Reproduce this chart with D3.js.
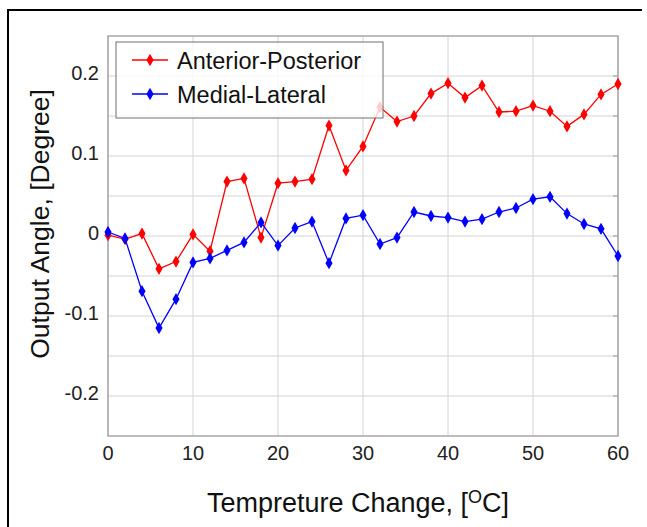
<!DOCTYPE html>
<html>
<head>
<meta charset="utf-8">
<script src="https://cdn.jsdelivr.net/npm/d3@7"></script>
<style>
    body { margin: 0; background: #fff; }
    text { font-family: "Liberation Sans", Arial, sans-serif; }
</style>
</head>
<body>
<div id="chart"></div>
<script>
// temperature steps (deg C)
const temps = [0, 2, 4, 6, 8, 10, 12, 14, 16, 18, 20, 22, 24, 26, 28, 30,
    32, 34, 36, 38, 40, 42, 44, 46, 48, 50, 52, 54, 56, 58, 60];

const anteriorPosterior = [0.001, -0.004, 0.003, -0.041, -0.032, 0.002, -0.019, 0.068, 0.072, -0.002,
    0.066, 0.068, 0.071, 0.138, 0.082, 0.112, 0.161, 0.143, 0.150, 0.178,
    0.191, 0.173, 0.188, 0.155, 0.156, 0.163, 0.156, 0.137, 0.152, 0.177, 0.190];

const medialLateral = [0.005, -0.003, -0.069, -0.115, -0.079, -0.033, -0.028, -0.018, -0.008, 0.017,
    -0.012, 0.010, 0.018, -0.034, 0.022, 0.026, -0.010, -0.002, 0.030, 0.025,
    0.023, 0.018, 0.021, 0.030, 0.035, 0.046, 0.049, 0.028, 0.015, 0.009, -0.025];

const xTicks = [0, 10, 20, 30, 40, 50, 60];
const yTicks = [-0.2, -0.1, 0, 0.1, 0.2];
const yTickLabels = ["-0.2", "-0.1", "0", "0.1", "0.2"];
const yGrid = [-0.2, -0.15, -0.1, -0.05, 0, 0.05, 0.1, 0.15, 0.2];

const series = [
    { name: "Anterior-Posterior", values: anteriorPosterior, color: "#ff0000" },
    { name: "Medial-Lateral", values: medialLateral, color: "#0000ff" }
];

let width = 647, height = 527;
let margin = { top: 36, right: 29, bottom: 91, left: 108 };

let svg = d3.select("#chart")
    .append("svg")
    .attr("width", width)
    .attr("height", height);

// outer frame (only left and top edges visible in the picture)
svg.append("path")
    .attr("d", "M8,527 L8,10 L642,10")
    .attr("fill", "none")
    .attr("stroke", "#000")
    .attr("stroke-width", 2);

let x = d3.scaleLinear()
    .domain([0, 60])
    .range([margin.left, width - margin.right]);

let y = d3.scaleLinear()
    .domain([-0.25, 0.25])
    .range([height - margin.bottom, margin.top]);

let g = svg.append("g");

// grid
g.selectAll(".vgrid")
    .data(xTicks)
    .enter()
    .append("line")
    .attr("class", "vgrid")
    .attr("x1", d => x(d)).attr("x2", d => x(d))
    .attr("y1", y(-0.25)).attr("y2", y(0.25))
    .attr("stroke", "#d4d4d4")
    .attr("stroke-width", 1);

g.selectAll(".hgrid")
    .data(yGrid)
    .enter()
    .append("line")
    .attr("class", "hgrid")
    .attr("x1", x(0)).attr("x2", x(60))
    .attr("y1", d => y(d)).attr("y2", d => y(d))
    .attr("stroke", "#d4d4d4")
    .attr("stroke-width", 1);

// small tick marks on the right side
g.selectAll(".rtick")
    .data(yGrid)
    .enter()
    .append("line")
    .attr("x1", x(60) - 5).attr("x2", x(60))
    .attr("y1", d => y(d)).attr("y2", d => y(d))
    .attr("stroke", "#999");

// plot border
g.append("rect")
    .attr("x", x(0))
    .attr("y", y(0.25))
    .attr("width", x(60) - x(0))
    .attr("height", y(-0.25) - y(0.25))
    .attr("fill", "none")
    .attr("stroke", "#a6a6a6")
    .attr("stroke-width", 1.5);

// tick labels
g.selectAll(".xlabel")
    .data(xTicks)
    .enter()
    .append("text")
    .attr("x", d => x(d))
    .attr("y", y(-0.25) + 24)
    .attr("text-anchor", "middle")
    .attr("font-size", 20)
    .attr("fill", "#222")
    .text(d => d);

g.selectAll(".ylabel")
    .data(yTicks)
    .enter()
    .append("text")
    .attr("x", x(0) - 9)
    .attr("y", d => y(d) + 4)
    .attr("text-anchor", "end")
    .attr("font-size", 20)
    .attr("fill", "#222")
    .text((d, i) => yTickLabels[i]);

// axis titles
let xt = svg.append("text")
    .attr("x", 358)
    .attr("y", 512)
    .attr("text-anchor", "middle")
    .attr("font-size", 27)
    .attr("fill", "#111");
xt.append("tspan").text("Tempreture Change, [");
xt.append("tspan").attr("font-size", 18).attr("dy", -9).text("O");
xt.append("tspan").attr("dy", 9).text("C]");

svg.append("text")
    .attr("transform", "translate(49," + 224 + ") rotate(-90)")
    .attr("text-anchor", "middle")
    .attr("font-size", 26.5)
    .attr("fill", "#111")
    .text("Output Angle, [Degree]");

// series
const diamond = d3.symbol().type(d3.symbolDiamond).size(44);

series.forEach(function (s) {
    let pts = temps.map((t, i) => [t, s.values[i]]);
    g.append("path")
        .datum(pts)
        .attr("fill", "none")
        .attr("stroke", s.color)
        .attr("stroke-width", 1.3)
        .attr("d", d3.line().x(d => x(d[0])).y(d => y(d[1])));
    g.selectAll(null)
        .data(pts)
        .enter()
        .append("path")
        .attr("transform", d => "translate(" + x(d[0]) + "," + y(d[1]) + ")")
        .attr("d", diamond)
        .attr("fill", s.color);
});

// legend (semi-transparent white box)
let legend = svg.append("g");
legend.append("rect")
    .attr("x", 116)
    .attr("y", 42)
    .attr("width", 267)
    .attr("height", 76)
    .attr("fill", "#fff")
    .attr("fill-opacity", 0.8)
    .attr("stroke", "#707070")
    .attr("stroke-width", 1);

series.forEach(function (s, i) {
    let ly = 60 + i * 34;
    legend.append("line")
        .attr("x1", 132).attr("x2", 168)
        .attr("y1", ly).attr("y2", ly)
        .attr("stroke", s.color)
        .attr("stroke-width", 1.3);
    legend.append("path")
        .attr("transform", "translate(150," + ly + ")")
        .attr("d", diamond)
        .attr("fill", s.color);
    legend.append("text")
        .attr("x", 177)
        .attr("y", ly + 8.5)
        .attr("font-size", 23.5)
        .attr("fill", "#111")
        .text(s.name);
});
</script>
</body>
</html>
